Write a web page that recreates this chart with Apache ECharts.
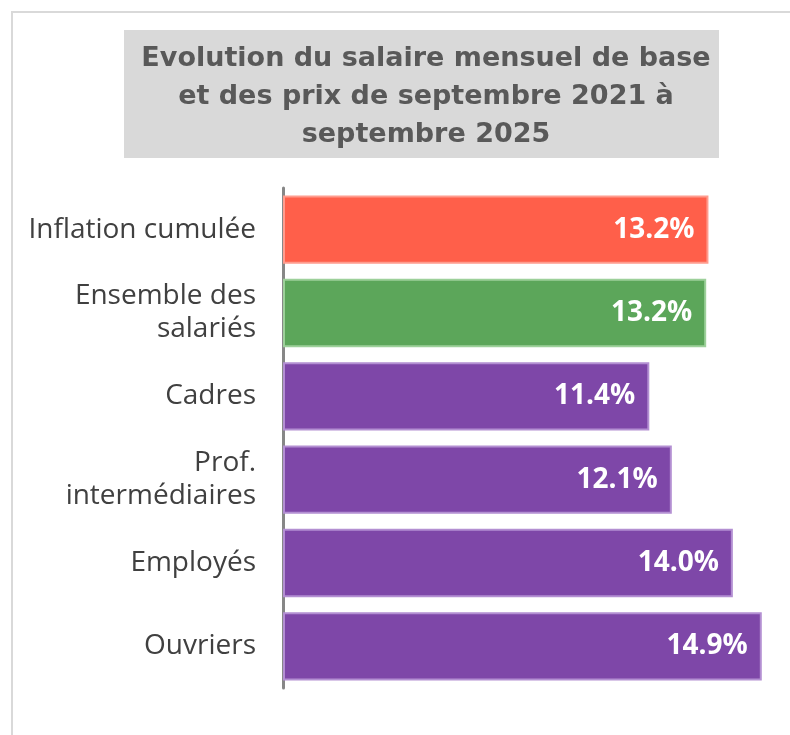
<!DOCTYPE html>
<html><head><meta charset="utf-8">
<script src="https://cdn.jsdelivr.net/npm/echarts@6/dist/echarts.min.js"></script>
<style>html,body{margin:0;padding:0;background:#fff}#c{width:790px;height:735px}</style>
</head><body><div id="c"></div>
<script>
const titleText = "Evolution du salaire mensuel de base\net des prix de septembre 2021 à\nseptembre 2025";
const categories = ["Inflation cumulée", "Ensemble des\nsalariés", "Cadres", "Prof.\nintermédiaires", "Employés", "Ouvriers"];
const values = [13.24, 13.17, 11.4, 12.1, 14.0, 14.9];
const barColors = ["#FF5F4A", "#5CA65A", "#7E47A8", "#7E47A8", "#7E47A8", "#7E47A8"];
const borderColors = ["#FF9C8E", "#9DD09A", "#B38FD2", "#B38FD2", "#B38FD2", "#B38FD2"];

const chart = echarts.init(document.getElementById('c'), null, {renderer: 'canvas'});
const TFONT = "'DejaVu Sans', sans-serif";
const FONT = "'Open Sans', sans-serif";
chart.setOption({
  animation: false,
  graphic: [
    {type: 'rect', shape: {x: 12, y: 12, width: 800, height: 760}, style: {fill: 'none', stroke: '#D9D9D9', lineWidth: 2}, z: 0},
    {type: 'rect', shape: {x: 124, y: 30, width: 595, height: 128}, style: {fill: '#D9D9D9'}, z: 0}
  ],
  title: {
    text: titleText, top: 35, left: 421, textAlign: 'center',
    textStyle: {fontFamily: TFONT, fontSize: 27, fontWeight: 'bold', color: '#595959', lineHeight: 38}
  },
  grid: {left: 283, top: 188, width: 482, height: 500},
  xAxis: {type: 'value', min: 0, max: 15, show: false},
  yAxis: {
    type: 'category', data: categories, inverse: true,
    axisLine: {show: true, lineStyle: {color: '#878787', width: 3}},
    axisTick: {show: false},
    axisLabel: {fontFamily: FONT, fontSize: 28, color: '#404040', margin: 27, lineHeight: 33, align: 'right'}
  },
  series: [{
    type: 'bar', barCategoryGap: '18%',
    data: values.map((v, i) => ({value: v, itemStyle: {color: barColors[i], borderColor: borderColors[i], borderWidth: 2}})),
    label: {show: true, position: 'insideRight', distance: 14, fontFamily: FONT, fontSize: 28, fontWeight: 'bold', color: '#fff',
      formatter: p => p.value.toFixed(1) + '%'}
  }]
});
</script></body></html>
